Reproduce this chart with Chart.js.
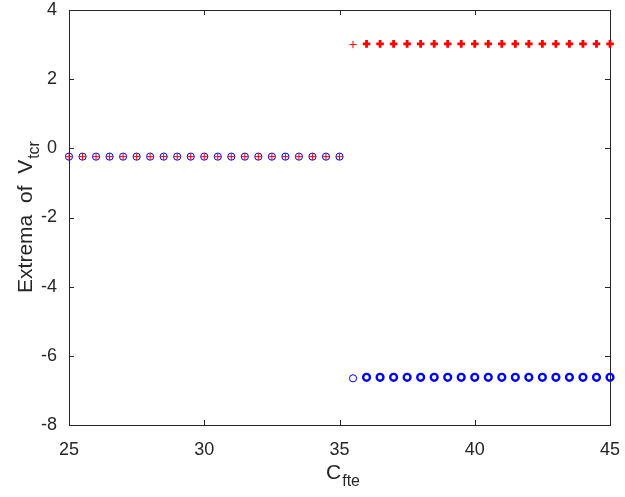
<!DOCTYPE html>
<html>
<head>
<meta charset="utf-8">
<script src="https://cdn.jsdelivr.net/npm/chart.js@4/dist/chart.umd.min.js"></script>
<style>
  html, body { margin: 0; padding: 0; background: #fff; }
  canvas { display: block; }
</style>
</head>
<body>
<canvas id="grafica" width="625" height="497"></canvas>
<script>
// equilibrium branch: max and min coincide
const cEq = [25, 25.5, 26, 26.5, 27, 27.5, 28, 28.5, 29, 29.5, 30, 30.5, 31, 31.5, 32, 32.5, 33, 33.5, 34, 34.5, 35];
const vEq = [-0.24, -0.24, -0.24, -0.24, -0.24, -0.24, -0.24, -0.24, -0.24, -0.24, -0.24, -0.24, -0.24, -0.24, -0.24, -0.24, -0.24, -0.24, -0.24, -0.24, -0.24];

// onset of oscillation
const cOnset = [35.5];
const vMaxOnset = [3.0];
const vMinOnset = [-6.65];

// oscillating branch
const cCycle = [36, 36.5, 37, 37.5, 38, 38.5, 39, 39.5, 40, 40.5, 41, 41.5, 42, 42.5, 43, 43.5, 44, 44.5, 45];
const vMaxCycle = [3.02, 3.02, 3.02, 3.02, 3.02, 3.02, 3.02, 3.02, 3.02, 3.02, 3.02, 3.02, 3.02, 3.02, 3.02, 3.02, 3.02, 3.02, 3.02];
const vMinCycle = [-6.62, -6.62, -6.62, -6.62, -6.62, -6.62, -6.62, -6.62, -6.62, -6.62, -6.62, -6.62, -6.62, -6.62, -6.62, -6.62, -6.62, -6.62, -6.62];

const xTicks = [25, 30, 35, 40, 45];
const yTicks = [-8, -6, -4, -2, 0, 2, 4];

const axisColor = '#262626';
const fontFamily = '"Liberation Sans", Arial, sans-serif';

function puntos(xs, ys) {
  return xs.map((x, i) => ({ x: x, y: ys[i] }));
}

function marca(label, data, color, style, radius, width) {
  return {
    label: label,
    data: data,
    pointStyle: style,
    pointRadius: radius,
    pointBorderWidth: width,
    borderColor: color,
    backgroundColor: 'rgba(0,0,0,0)',
    pointBackgroundColor: 'rgba(0,0,0,0)',
    clip: false
  };
}

// caja estilo MATLAB con ticks hacia dentro + titulos con subindice
const cajaMatlab = {
  id: 'cajaMatlab',
  beforeDatasetsDraw(chart) {
    const { ctx, chartArea: a, scales } = chart;
    ctx.save();
    ctx.strokeStyle = axisColor;
    ctx.lineWidth = 1;
    ctx.strokeRect(a.left + 0.5, a.top + 0.5, a.right - a.left, a.bottom - a.top);
    const len = 5;
    ctx.beginPath();
    xTicks.forEach(v => {
      const x = Math.round(scales.x.getPixelForValue(v)) + 0.5;
      ctx.moveTo(x, a.bottom); ctx.lineTo(x, a.bottom - len);
      ctx.moveTo(x, a.top); ctx.lineTo(x, a.top + len);
    });
    yTicks.forEach(v => {
      const y = Math.round(scales.y.getPixelForValue(v)) + 0.5;
      ctx.moveTo(a.left, y); ctx.lineTo(a.left + len, y);
      ctx.moveTo(a.right, y); ctx.lineTo(a.right - len, y);
    });
    ctx.stroke();
    ctx.restore();
  },
  afterDraw(chart) {
    const { ctx, chartArea: a } = chart;
    ctx.save();
    ctx.fillStyle = axisColor;
    ctx.textBaseline = 'alphabetic';
    ctx.textAlign = 'left';
    const big = '21px ' + fontFamily;
    const small = '16px ' + fontFamily;

    // x title: C_fte
    ctx.font = big;
    const wC = ctx.measureText('C').width;
    ctx.font = small;
    const wF = ctx.measureText('fte').width;
    let x0 = (a.left + a.right) / 2 - (wC + wF) / 2 + 3;
    ctx.font = big;
    ctx.fillText('C', x0, 479);
    ctx.font = small;
    ctx.fillText('fte', x0 + wC + 1, 486);

    // y title: Extrema of V_tcr
    ctx.translate(32, (a.top + a.bottom) / 2);
    ctx.rotate(-Math.PI / 2);
    const main = 'Extrema  of  V';
    ctx.font = big;
    const wM = ctx.measureText(main).width;
    ctx.font = small;
    const wS = ctx.measureText('tcr').width;
    const s0 = -(wM + wS) / 2;
    ctx.font = big;
    ctx.fillText(main, s0, 0);
    ctx.font = small;
    ctx.fillText('tcr', s0 + wM + 1, 7);
    ctx.restore();
  }
};

const ctx = document.getElementById('grafica').getContext('2d');

const grafica = new Chart(ctx, {
  type: 'scatter',
  data: {
    datasets: [
      marca('max eq', puntos(cEq, vEq), 'red', 'cross', 3.4, 1),
      marca('max onset', puntos(cOnset, vMaxOnset), 'red', 'cross', 3.6, 1),
      marca('max ciclo', puntos(cCycle, vMaxCycle), 'red', 'cross', 3.8, 2.8),
      marca('min eq', puntos(cEq, vEq), 'blue', 'circle', 3.6, 1),
      marca('min onset', puntos(cOnset, vMinOnset), 'blue', 'circle', 3.6, 1),
      marca('min ciclo', puntos(cCycle, vMinCycle), 'blue', 'circle', 3.4, 2.4)
    ]
  },
  options: {
    responsive: false,
    animation: false,
    layout: { padding: { top: 10, right: 15, left: 0, bottom: 0 } },
    plugins: {
      legend: { display: false },
      tooltip: { enabled: false }
    },
    scales: {
      x: {
        type: 'linear',
        min: 25,
        max: 45,
        afterBuildTicks: s => { s.ticks = xTicks.map(v => ({ value: v })); },
        afterFit: s => { s.height = 72; s.paddingLeft = 0; s.paddingRight = 0; },
        grid: { display: false, drawTicks: false },
        border: { display: false },
        ticks: { color: axisColor, font: { family: fontFamily, size: 18 }, padding: 14, maxRotation: 0 }
      },
      y: {
        type: 'linear',
        min: -8,
        max: 4,
        afterBuildTicks: s => { s.ticks = yTicks.map(v => ({ value: v })); },
        afterFit: s => { s.width = 69; s.paddingTop = 0; s.paddingBottom = 0; },
        grid: { display: false, drawTicks: false },
        border: { display: false },
        ticks: { color: axisColor, font: { family: fontFamily, size: 18 }, padding: 12 }
      }
    }
  },
  plugins: [cajaMatlab]
});
</script>
</body>
</html>
